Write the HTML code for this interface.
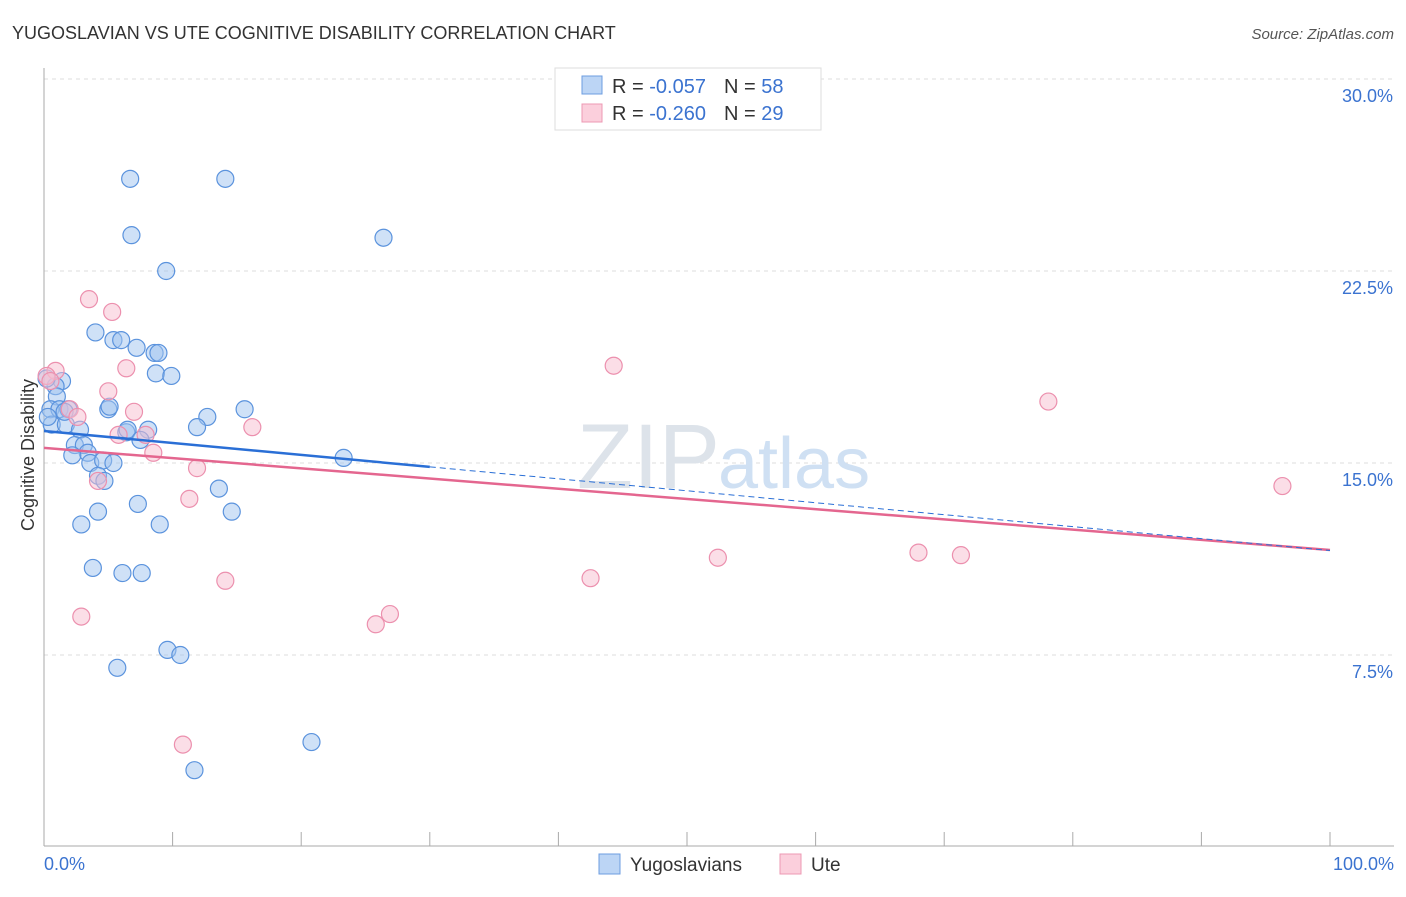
<!DOCTYPE html>
<html><head><meta charset="utf-8"><style>
body{margin:0;background:#fff;font-family:"Liberation Sans",sans-serif;}
svg text{font-family:"Liberation Sans",sans-serif;}
</style></head><body>
<svg width="1406" height="892">
<text x="12" y="39" font-size="18" fill="#333">YUGOSLAVIAN VS UTE COGNITIVE DISABILITY CORRELATION CHART</text>
<text x="1394" y="39" font-size="15" fill="#555" font-style="italic" text-anchor="end">Source: ZipAtlas.com</text>
<g id="grid"></g>
<text x="720" y="488" font-size="92" fill="#dde3ea" text-anchor="end" font-family="Liberation Serif">ZIP</text>
<text x="718" y="488" font-size="72" fill="#cfe0f3">atlas</text>
<g id="pts"></g>
<g id="lines"></g>
<text x="34" y="455" font-size="18" fill="#333" text-anchor="middle" transform="rotate(-90 34 455)">Cognitive Disability</text>
<text x="44" y="870" font-size="18" fill="#3b73d0">0.0%</text>
<text x="1394" y="870" font-size="18" fill="#3b73d0" text-anchor="end">100.0%</text>
<g>
<rect x="555" y="68" width="266" height="62" fill="#fff" stroke="#ddd"/>
<rect x="582" y="76" width="20" height="18" fill="#bcd5f5" stroke="#6d9de0"/>
<rect x="582" y="104" width="20" height="18" fill="#fbcfdc" stroke="#ec98b3"/>
<text x="612" y="93" font-size="20" fill="#333">R = <tspan fill="#3b73d0">-0.057</tspan><tspan dx="18">N = </tspan><tspan fill="#3b73d0">58</tspan></text>
<text x="612" y="120" font-size="20" fill="#333">R = <tspan fill="#3b73d0">-0.260</tspan><tspan dx="18">N = </tspan><tspan fill="#3b73d0">29</tspan></text>
</g>
<g>
<rect x="599" y="854" width="21" height="20" fill="#bcd5f5" stroke="#6d9de0"/>
<text x="630" y="871" font-size="19" fill="#333">Yugoslavians</text>
<rect x="780" y="854" width="21" height="20" fill="#fbcfdc" stroke="#ec98b3"/>
<text x="811" y="871" font-size="19" fill="#333">Ute</text>
</g>
</svg>
<script>
const yTicks=[7.5,15,22.5,30];
const xTicks=[0,10,20,30,40,50,60,70,80,90,100];
const blueX=[6.7,14.1,6.8,26.4,9.5,4.0,5.4,6.0,7.2,8.6,8.9,8.7,9.9,1.4,0.9,1.0,0.5,1.2,1.9,5.0,5.1,15.6,12.7,0.6,1.7,2.8,6.4,6.5,8.1,11.9,7.5,2.4,3.1,3.4,2.2,3.6,4.6,5.4,23.3,4.2,4.7,13.6,7.3,4.2,14.6,2.9,9.0,3.8,6.1,7.6,9.6,10.6,5.7,20.8,11.7,0.2,0.3,1.6];
const blueY=[26.1,26.1,23.9,23.8,22.5,20.1,19.8,19.8,19.5,19.3,19.3,18.5,18.4,18.2,18.0,17.6,17.1,17.1,17.1,17.1,17.2,17.1,16.8,16.5,16.5,16.3,16.2,16.3,16.3,16.4,15.9,15.7,15.7,15.4,15.3,15.0,15.1,15.0,15.2,14.5,14.3,14.0,13.4,13.1,13.1,12.6,12.6,10.9,10.7,10.7,7.7,7.5,7.0,4.1,3.0,18.3,16.8,17.0];
const pinkX=[3.5,5.3,0.9,0.2,44.3,6.4,5.0,78.1,7.0,2.0,2.6,16.2,5.8,7.9,8.5,11.9,4.2,96.3,11.3,52.4,68.0,71.3,42.5,14.1,2.9,26.9,25.8,10.8,0.5];
const pinkY=[21.4,20.9,18.6,18.4,18.8,18.7,17.8,17.4,17.0,17.1,16.8,16.4,16.1,16.1,15.4,14.8,14.3,14.1,13.6,11.3,11.5,11.4,10.5,10.4,9.0,9.1,8.7,4.0,18.2];
const blueTrend=[16.25,11.58];
const pinkTrend=[15.59,11.6];
const X=v=>44+v*12.86, Y=v=>847-v*25.6;
const NS='http://www.w3.org/2000/svg';
function mk(tag,attrs,parent){const e=document.createElementNS(NS,tag);for(const k in attrs)e.setAttribute(k,attrs[k]);parent.appendChild(e);return e;}
const grid=document.getElementById('grid');
yTicks.forEach(t=>{
 const l=mk('line',{x1:44,x2:1394,y1:Y(t),y2:Y(t),stroke:'#ddd','stroke-dasharray':'4,4'},grid);
 
 
 const tx=mk('text',{x:1393,y:Y(t)+23,'font-size':18,fill:'#3b73d0','text-anchor':'end'},grid);
 tx.textContent=t.toFixed(1)+'%';
 
 
});
const ax=mk('line',{x1:44,x2:44,y1:68,y2:846,stroke:'#aaa'},grid);


const bx=mk('line',{x1:44,x2:1394,y1:846,y2:846,stroke:'#aaa'},grid);


xTicks.forEach(t=>{
 const l=mk('line',{x1:X(t),x2:X(t),y1:832,y2:846,stroke:'#aaa'},grid);
 
 
});
const pts=document.getElementById('pts');
blueX.forEach((x,i)=>{
 const c=mk('circle',{cx:X(x),cy:Y(blueY[i]),r:8.5,fill:'rgba(160,196,240,0.5)',stroke:'#5b93dd','stroke-width':1.2},pts);
 
 
});
pinkX.forEach((x,i)=>{
 const c=mk('circle',{cx:X(x),cy:Y(pinkY[i]),r:8.5,fill:'rgba(248,190,208,0.5)',stroke:'#ec90ae','stroke-width':1.2},pts);
 
 
});
const lines=document.getElementById('lines');
const by=x=>blueTrend[0]+(blueTrend[1]-blueTrend[0])*x/100;
const py=x=>pinkTrend[0]+(pinkTrend[1]-pinkTrend[0])*x/100;
const pl=mk('line',{x1:X(0),y1:Y(py(0)),x2:X(100),y2:Y(py(100)),stroke:'#e4668f','stroke-width':2.5},lines);


const b1=mk('line',{x1:X(0),y1:Y(by(0)),x2:X(30),y2:Y(by(30)),stroke:'#2a6fd6','stroke-width':2.5},lines);


const b2=mk('line',{x1:X(30),y1:Y(by(30)),x2:X(100),y2:Y(by(100)),stroke:'#2a6fd6','stroke-width':1,'stroke-dasharray':'6,4'},lines);


</script>
</body></html>
